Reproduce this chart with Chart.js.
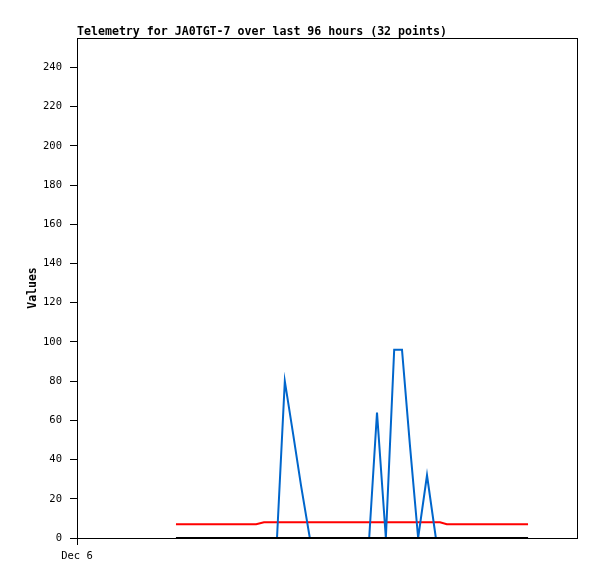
<!DOCTYPE html>
<html lang="en">

<head>
    <meta charset="UTF-8">
    <title>Telemetry JA0TGT-7</title>
    <style>
        body { margin: 0; background: #fff; }
        canvas { display: block; }
    </style>
</head>

<body>

    <canvas id="myChart" width="597" height="579"></canvas>

    <script src="https://cdn.jsdelivr.net/npm/chart.js@4.4.1/dist/chart.umd.min.js"></script>

    <script>
        // hours since Dec 6 00:00 (axis runs over 96 hours)
        var hours = [19.0, 22.8, 26.7, 30.5, 34.4, 35.9, 38.4, 39.9, 41.5, 43.0, 44.7, 47.6,
            50.5, 53.4, 56.1, 57.6, 59.3, 60.9, 62.4, 63.9, 65.5, 67.2, 68.9, 69.7,
            71.0, 73.9, 76.8, 79.7, 82.2, 84.3, 85.4, 86.6];
        var redValues = [7, 7, 7, 7, 7, 8, 8, 8, 8, 8, 8, 8,
            8, 8, 8, 8, 8, 8, 8, 8, 8, 8, 8, 8,
            7, 7, 7, 7, 7, 7, 7, 7];
        var blueValues = [0, 0, 0, 0, 0, 0, 0, 80, 53, 27, 0, 0,
            0, 0, 0, 64, 0, 96, 96, 48, 0, 32, 0, 0,
            0, 0, 0, 0, 0, 0, 0, 0];
        var blackValues = [0, 0, 0, 0, 0, 0, 0, 0, 0, 0, 0, 0,
            0, 0, 0, 0, 0, 0, 0, 0, 0, 0, 0, 0,
            0, 0, 0, 0, 0, 0, 0, 0];
        var xTickLabels = ['Dec 6'];
        var titleText = 'Telemetry for JA0TGT-7 over last 96 hours (32 points)';

        function pts(values) {
            return values.map(function (v, i) { return { x: hours[i], y: v }; });
        }

        var frame = {
            id: 'frame',
            beforeDraw: function (chart) {
                var c = chart.ctx;
                c.save();
                c.fillStyle = '#fff';
                c.fillRect(0, 0, chart.width, chart.height);
                c.restore();
            },
            afterDraw: function (chart) {
                var c = chart.ctx, a = chart.chartArea;
                c.save();
                c.strokeStyle = '#000';
                c.lineWidth = 1;
                c.strokeRect(Math.round(a.left) + 0.5, Math.round(a.top) + 0.5,
                    Math.round(a.right - a.left), Math.round(a.bottom - a.top));
                c.fillStyle = '#000';
                c.font = 'bold 11.6px "DejaVu Sans Mono"';
                c.textBaseline = 'alphabetic';
                c.textAlign = 'left';
                c.fillText(titleText, a.left, 35);
                c.restore();
            }
        };

        var ctx = document.getElementById('myChart').getContext('2d');
        var chart = new Chart(ctx, {
            type: 'line',
            data: {
                datasets: [
                    { data: pts(blackValues), borderColor: '#000', borderWidth: 2, order: 0 },
                    { data: pts(blueValues), borderColor: '#0066cc', borderWidth: 2, order: 1 },
                    { data: pts(redValues), borderColor: '#ff0000', borderWidth: 2, order: 2 }
                ]
            },
            options: {
                responsive: false,
                animation: false,
                layout: { padding: { top: 38, right: 20, left: 0, bottom: 0 } },
                elements: { point: { radius: 0 }, line: { tension: 0 } },
                plugins: { legend: { display: false }, tooltip: { enabled: false } },
                scales: {
                    x: {
                        type: 'linear',
                        min: 0,
                        max: 96,
                        afterBuildTicks: function (s) { s.ticks = [{ value: 0 }]; },
                        afterFit: function (s) { s.height = 41; },
                        grid: { drawOnChartArea: false, drawTicks: true, tickLength: 7, color: '#000' },
                        border: { display: true, color: '#000' },
                        ticks: {
                            color: '#000',
                            padding: 5,
                            maxRotation: 0,
                            font: { family: 'DejaVu Sans Mono', size: 10.5 },
                            callback: function (v, i) { return xTickLabels[i]; }
                        }
                    },
                    y: {
                        min: 0,
                        max: 255,
                        afterBuildTicks: function (s) {
                            s.ticks = s.ticks.filter(function (t) { return t.value <= 240; });
                        },
                        afterFit: function (s) { s.width = 77; },
                        grid: { drawOnChartArea: false, drawTicks: true, tickLength: 7, color: '#000' },
                        border: { display: true, color: '#000' },
                        title: {
                            display: true,
                            text: 'Values',
                            color: '#000',
                            padding: { top: 26, bottom: 0 },
                            font: { family: 'DejaVu Sans Mono', size: 11.5, weight: 'bold' }
                        },
                        ticks: {
                            stepSize: 20,
                            color: '#000',
                            padding: 8,
                            font: { family: 'DejaVu Sans Mono', size: 10.5 }
                        }
                    }
                }
            },
            plugins: [frame]
        });
    </script>

</body>

</html>
